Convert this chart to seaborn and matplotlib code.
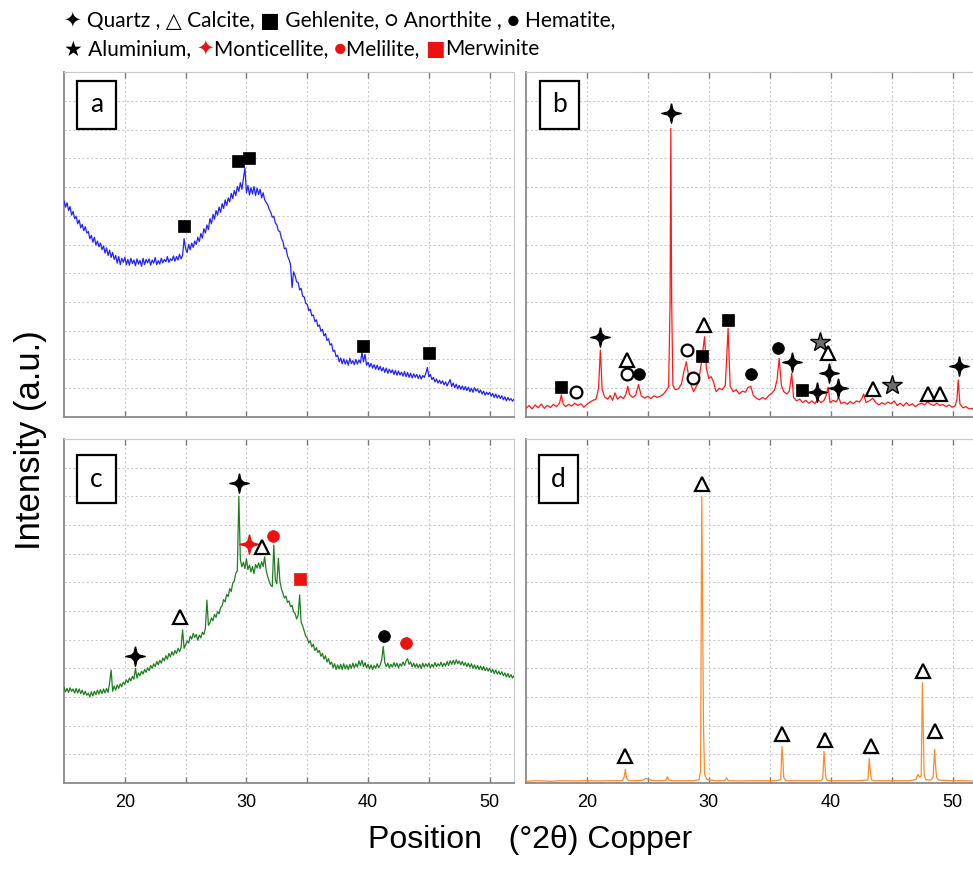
import numpy as np
import pandas as pd
import matplotlib
matplotlib.use("Agg")
import matplotlib.pyplot as plt
from matplotlib.patches import Rectangle
import seaborn as sns

# ---------------- data ----------------
grid_pos = np.arange(15.0, 52.001, 0.125)   # 2theta sampling for panels a and c

a_int = [7.52, 7.30, 7.45, 7.18, 7.32, 7.02, 7.15, 6.90,
         6.98, 6.72, 6.85, 6.58, 6.70, 6.48, 6.62, 6.40,
         6.45, 6.20, 6.32, 6.08, 6.25, 5.98, 6.12, 5.92,
         6.05, 5.82, 5.95, 5.70, 5.88, 5.62, 5.80, 5.55,
         5.72, 5.48, 5.62, 5.35, 5.58, 5.30, 5.52, 5.38,
         5.55, 5.30, 5.48, 5.28, 5.52, 5.34, 5.46, 5.26,
         5.50, 5.32, 5.45, 5.24, 5.52, 5.30, 5.48, 5.36,
         5.50, 5.28, 5.46, 5.35, 5.55, 5.30, 5.44, 5.32,
         5.52, 5.36, 5.48, 5.40, 5.58, 5.38, 5.50, 5.44,
         5.60, 5.42, 5.58, 5.46, 5.66, 5.50, 5.62, 6.20,
         5.85, 5.72, 6.00, 5.82, 6.05, 5.90, 6.12, 6.00,
         6.25, 6.10, 6.38, 6.22, 6.55, 6.40, 6.68, 6.52,
         6.90, 6.72, 7.05, 6.88, 7.18, 7.02, 7.30, 7.12,
         7.42, 7.25, 7.55, 7.36, 7.62, 7.48, 7.78, 7.60,
         7.88, 7.70, 8.02, 7.85, 8.15, 7.92, 8.30, 8.66,
         7.80, 8.05, 7.72, 7.98, 7.76, 8.02, 7.70, 7.96,
         7.74, 7.92, 7.62, 7.80, 7.55, 7.46, 7.38, 7.22,
         7.12, 6.95, 6.98, 6.75, 6.68, 6.48, 6.45, 6.22,
         6.10, 5.85, 5.88, 5.60, 5.48, 5.30, 4.50, 5.05,
         4.92, 4.70, 4.68, 4.42, 4.48, 4.20, 4.18, 3.95,
         3.92, 3.70, 3.75, 3.52, 3.55, 3.32, 3.38, 3.15,
         3.20, 2.98, 3.05, 2.82, 2.90, 2.66, 2.72, 2.50,
         2.55, 2.28, 2.32, 2.10, 2.15, 1.92, 2.05, 1.85,
         2.02, 1.84, 1.98, 1.80, 2.04, 1.86, 1.96, 1.82,
         2.00, 1.84, 1.98, 1.88, 2.25, 1.92, 2.18, 1.80,
         1.90, 1.74, 1.86, 1.70, 1.82, 1.66, 1.80, 1.64,
         1.76, 1.60, 1.72, 1.55, 1.70, 1.52, 1.66, 1.54,
         1.64, 1.48, 1.62, 1.45, 1.60, 1.46, 1.56, 1.42,
         1.58, 1.40, 1.55, 1.38, 1.52, 1.36, 1.50, 1.38,
         1.48, 1.34, 1.46, 1.32, 1.44, 1.38, 1.52, 1.72,
         1.40, 1.48, 1.30, 1.38, 1.22, 1.32, 1.18, 1.28,
         1.16, 1.26, 1.12, 1.22, 1.08, 1.20, 1.30, 1.06,
         1.18, 1.02, 1.14, 0.98, 1.10, 0.96, 1.08, 0.94,
         1.06, 0.92, 1.04, 0.88, 1.00, 0.86, 1.02, 0.90,
         0.98, 0.84, 0.94, 0.80, 0.90, 0.76, 0.86, 0.78,
         0.86, 0.72, 0.82, 0.68, 0.80, 0.66, 0.76, 0.64,
         0.74, 0.60, 0.70, 0.56, 0.68, 0.58, 0.64, 0.55,
         0.62]

c_int = [3.34, 3.18, 3.30, 3.16, 3.32, 3.20, 3.28, 3.14,
         3.30, 3.14, 3.28, 3.12, 3.24, 3.08, 3.20, 3.06,
         3.14, 3.00, 3.18, 3.04, 3.20, 3.08, 3.24, 3.10,
         3.26, 3.12, 3.28, 3.14, 3.30, 3.16, 3.50, 3.94,
         3.20, 3.38, 3.24, 3.42, 3.30, 3.46, 3.36, 3.52,
         3.44, 3.60, 3.50, 3.66, 3.56, 3.72, 3.62, 4.00,
         3.66, 3.84, 3.74, 3.90, 3.80, 3.96, 3.86, 4.02,
         3.92, 4.10, 4.00, 4.16, 4.06, 4.24, 4.12, 4.28,
         4.18, 4.36, 4.26, 4.44, 4.32, 4.52, 4.40, 4.58,
         4.46, 4.62, 4.52, 4.70, 4.58, 4.72, 5.34, 4.70,
         4.82, 4.96, 4.88, 5.12, 5.02, 5.22, 5.08, 5.18,
         4.98, 5.16, 5.06, 5.26, 5.18, 5.40, 6.38, 5.50,
         5.58, 5.76, 5.66, 5.88, 5.78, 5.98, 5.90, 6.12,
         6.18, 6.40, 6.32, 6.58, 6.50, 6.78, 6.68, 6.98,
         7.05, 7.32, 7.40, 9.99, 7.80, 7.54, 7.70, 7.48,
         7.82, 7.45, 7.60, 7.36, 7.55, 7.30, 7.62, 7.50,
         7.68, 7.48, 7.72, 7.55, 7.89, 7.40, 7.20, 7.02,
         6.90, 6.85, 8.30, 7.10, 6.95, 7.84, 7.05, 6.78,
         6.62, 6.45, 6.52, 6.30, 6.35, 6.15, 6.20, 5.98,
         5.92, 5.72, 5.85, 6.56, 5.60, 5.48, 5.30, 5.12,
         5.06, 4.88, 4.96, 4.75, 4.84, 4.62, 4.72, 4.55,
         4.62, 4.42, 4.52, 4.32, 4.44, 4.22, 4.34, 4.14,
         4.22, 4.02, 4.16, 3.96, 4.12, 3.98, 4.14, 3.96,
         4.16, 3.98, 4.12, 3.96, 4.14, 4.00, 4.18, 4.02,
         4.16, 4.04, 4.26, 4.10, 4.28, 4.06, 4.20, 4.02,
         4.14, 3.98, 4.12, 3.96, 4.10, 4.00, 4.16, 4.02,
         4.12, 4.30, 4.76, 4.20, 4.06, 4.18, 4.02, 4.14,
         4.04, 4.20, 4.06, 4.18, 4.02, 4.16, 4.08, 4.22,
         4.10, 4.26, 4.34, 4.14, 4.22, 4.06, 4.18, 4.04,
         4.16, 4.02, 4.14, 4.00, 4.18, 4.04, 4.16, 4.06,
         4.18, 4.02, 4.14, 4.04, 4.20, 4.06, 4.16, 4.08,
         4.22, 4.06, 4.18, 4.08, 4.24, 4.10, 4.26, 4.14,
         4.28, 4.14, 4.30, 4.16, 4.26, 4.12, 4.24, 4.10,
         4.20, 4.06, 4.18, 4.04, 4.16, 4.00, 4.12, 3.98,
         4.10, 3.96, 4.08, 3.94, 4.06, 3.92, 4.02, 3.90,
         4.00, 3.86, 3.96, 3.82, 3.94, 3.80, 3.90, 3.78,
         3.88, 3.74, 3.84, 3.70, 3.82, 3.68, 3.78, 3.66,
         3.74]

b_pos = [15.0, 15.25, 15.5, 15.75, 16.0, 16.25, 16.5, 16.75, 17.0, 17.25, 17.5, 17.75,
         17.9, 18.05, 18.25, 18.5, 18.75, 19.0, 19.25, 19.5, 19.75, 20.0, 20.25, 20.5,
         20.75, 20.95, 21.1, 21.25, 21.45, 21.7, 21.9, 22.1, 22.3, 22.5, 22.75, 23.0,
         23.2, 23.35, 23.5, 23.75, 24.0, 24.23, 24.45, 24.7, 25.0, 25.25, 25.5, 25.75,
         26.0, 26.25, 26.5, 26.7, 26.82, 26.88, 26.95, 27.05, 27.25, 27.5, 27.75, 27.95,
         28.15, 28.35, 28.55, 28.75, 28.95, 29.15, 29.4, 29.65, 29.8, 30.0, 30.2, 30.4,
         30.6, 30.85, 31.1, 31.35, 31.58, 31.75, 32.0, 32.25, 32.5, 32.75, 33.0, 33.2,
         33.44, 33.65, 33.9, 34.15, 34.4, 34.65, 34.9, 35.15, 35.4, 35.6, 35.77, 35.95,
         36.15, 36.4, 36.6, 36.8, 36.95, 37.2, 37.45, 37.7, 37.95, 38.2, 38.45, 38.7,
         38.95, 39.2, 39.45, 39.6, 39.78, 39.95, 40.2, 40.45, 40.65, 40.85, 41.1, 41.35,
         41.6, 41.85, 42.1, 42.35, 42.55, 42.7, 42.9, 43.15, 43.45, 43.7, 43.95, 44.2,
         44.45, 44.7, 44.95, 45.2, 45.45, 45.7, 45.95, 46.2, 46.45, 46.7, 46.95, 47.2,
         47.45, 47.7, 47.95, 48.2, 48.45, 48.7, 48.95, 49.2, 49.45, 49.7, 49.95, 50.2,
         50.35, 50.46, 50.6, 50.85, 51.1, 51.35, 51.6, 51.85, 52.0]
b_int = [0.30, 0.40, 0.28, 0.42, 0.32, 0.45, 0.30, 0.40, 0.33, 0.44, 0.36, 0.48,
         0.77, 0.45, 0.36, 0.44, 0.38, 0.48, 0.40, 0.46, 0.34, 0.44, 0.52, 0.58,
         0.62, 1.00, 2.33, 0.95, 0.70, 0.62, 0.75, 0.58, 0.84, 0.62, 0.72, 0.64,
         0.80, 1.07, 0.78, 0.68, 0.76, 1.13, 0.74, 0.66, 0.72, 0.64, 0.74, 0.68,
         0.72, 0.78, 0.92, 1.05, 4.00, 10.04, 4.00, 1.10, 0.95, 0.98, 1.15, 1.57,
         1.92, 1.40, 1.10, 0.88, 1.05, 1.20, 1.92, 2.79, 1.69, 1.34, 1.40, 1.20,
         0.88, 1.00, 0.95, 1.10, 3.08, 1.07, 0.88, 0.95, 0.80, 0.90, 0.86, 1.02,
         1.07, 0.75, 0.65, 0.60, 0.68, 0.62, 0.74, 0.82, 0.95, 1.30, 2.04, 1.10,
         0.88, 0.80, 0.90, 1.52, 0.68, 0.56, 0.62, 0.50, 0.58, 0.48, 0.56, 0.46,
         0.62, 0.50, 0.58, 0.72, 1.04, 0.50, 0.58, 0.52, 0.68, 0.46, 0.52, 0.44,
         0.54, 0.46, 0.56, 0.52, 0.64, 0.80, 0.50, 0.56, 0.65, 0.50, 0.42, 0.50,
         0.44, 0.52, 0.46, 0.56, 0.40, 0.48, 0.38, 0.50, 0.40, 0.46, 0.36, 0.44,
         0.48, 0.42, 0.53, 0.44, 0.40, 0.48, 0.40, 0.44, 0.36, 0.42, 0.34, 0.38,
         0.60, 1.29, 0.45, 0.32, 0.36, 0.28, 0.30, 0.24, 0.26]

d_pos = [15.0, 16.0, 17.0, 18.0, 19.0, 20.0, 21.0, 22.0, 22.9, 23.05, 23.15, 23.25,
         23.4, 24.0, 24.6, 24.85, 25.1, 25.4, 26.3, 26.5, 26.6, 26.7, 27.0, 28.0,
         28.8, 29.2, 29.32, 29.42, 29.5, 29.56, 29.65, 29.85, 30.5, 31.3, 31.45, 31.6,
         32.5, 33.5, 34.5, 35.5, 35.9, 36.0, 36.08, 36.14, 36.3, 37.0, 38.0, 39.2,
         39.35, 39.45, 39.52, 39.6, 39.75, 41.0, 42.0, 43.05, 43.16, 43.24, 43.34, 43.5,
         44.5, 45.5, 46.5, 47.0, 47.15, 47.3, 47.42, 47.52, 47.6, 47.66, 47.8, 48.2,
         48.4, 48.52, 48.6, 48.68, 48.85, 50.0, 51.0, 52.0]
d_int = [0.06, 0.08, 0.06, 0.08, 0.07, 0.08, 0.07, 0.08, 0.08, 0.20, 0.48, 0.18,
         0.08, 0.08, 0.10, 0.16, 0.12, 0.08, 0.08, 0.10, 0.22, 0.10, 0.08, 0.08,
         0.08, 0.12, 0.40, 10.00, 5.50, 2.00, 0.30, 0.12, 0.08, 0.08, 0.18, 0.08,
         0.07, 0.08, 0.08, 0.08, 0.12, 1.27, 0.80, 0.20, 0.08, 0.08, 0.08, 0.08,
         0.15, 1.11, 0.65, 0.18, 0.08, 0.08, 0.08, 0.10, 0.86, 0.45, 0.12, 0.08,
         0.08, 0.08, 0.08, 0.12, 0.30, 0.20, 0.25, 3.50, 1.70, 0.30, 0.12, 0.10,
         0.20, 1.17, 0.60, 0.20, 0.10, 0.08, 0.08, 0.06]

# phase markers (position, height, phase)
a_mark_pos = [24.87, 29.34, 30.24, 39.56, 45.0]
a_mark_int = [6.64, 8.92, 9.02, 2.48, 2.24]
a_mark_phase = ["Gehlenite"] * 5

b_mark_pos = [26.88, 21.07, 17.87, 19.1, 23.28, 23.28, 24.23, 28.17, 28.74, 29.62, 29.48,
              31.58, 33.44, 35.71, 36.86, 37.68, 38.85, 39.1, 39.78, 39.86, 40.6, 43.5,
              45.0, 47.98, 49.0, 50.52]
b_mark_int = [10.59, 2.77, 1.05, 0.88, 1.98, 1.49, 1.49, 2.33, 1.37, 3.2, 2.13,
              3.37, 1.49, 2.41, 1.90, 0.94, 0.88, 2.62, 2.21, 1.54, 1.02, 0.99,
              1.10, 0.81, 0.81, 1.78]
b_mark_phase = ["Quartz", "Quartz", "Gehlenite", "Anorthite", "Calcite", "Anorthite",
                "Hematite", "Anorthite", "Anorthite", "Calcite", "Gehlenite",
                "Gehlenite", "Hematite", "Hematite", "Quartz", "Gehlenite", "Quartz",
                "Aluminium", "Calcite", "Quartz", "Quartz", "Calcite",
                "Aluminium", "Calcite", "Calcite", "Quartz"]

c_mark_pos = [20.82, 24.56, 29.42, 30.25, 31.26, 32.2, 34.37, 41.29, 43.1]
c_mark_int = [4.43, 5.78, 10.45, 8.32, 8.22, 8.62, 7.12, 5.13, 4.90]
c_mark_phase = ["Quartz", "Calcite", "Quartz", "Monticellite", "Calcite", "Melilite",
                "Merwinite", "Hematite", "Melilite"]

d_mark_pos = [23.15, 29.45, 36.03, 39.5, 43.34, 47.59, 48.57]
d_mark_int = [0.94, 10.43, 1.70, 1.50, 1.30, 3.92, 1.80]
d_mark_phase = ["Calcite"] * 7

panel_labels = ["a", "b", "c", "d"]
x_ticks = [20, 30, 40, 50]

# ---------------- styling ----------------
sns.set_style("white")
plt.rcParams["font.family"] = ["Lato", "DejaVu Sans"]
plt.rcParams["text.color"] = "black"
plt.rcParams["xtick.labelcolor"] = "black"

STAR4 = [(0, 1), (0.14, 0.40), (0.40, 0.14), (1, 0), (0.40, -0.14), (0.14, -0.40),
         (0, -1), (-0.14, -0.40), (-0.40, -0.14), (-1, 0), (-0.40, 0.14), (-0.14, 0.40), (0, 1)]
PHASE_STYLE = {
    "Quartz":       dict(marker=STAR4, ms=14, mfc="black", mec="black", mew=1.0),
    "Calcite":      dict(marker="^", ms=10, mfc="white", mec="black", mew=1.6),
    "Gehlenite":    dict(marker="s", ms=8.5, mfc="black", mec="black", mew=0.5),
    "Anorthite":    dict(marker="o", ms=8.5, mfc="white", mec="black", mew=1.6),
    "Hematite":     dict(marker="o", ms=8.5, mfc="black", mec="black", mew=0.5),
    "Aluminium":    dict(marker="*", ms=15, mfc="#6e6e6e", mec="black", mew=1.0),
    "Monticellite": dict(marker=STAR4, ms=14, mfc="#ee1111", mec="#ee1111", mew=1.0),
    "Melilite":     dict(marker="o", ms=8.5, mfc="#ee1111", mec="#ee1111", mew=0.5),
    "Merwinite":    dict(marker="s", ms=9, mfc="#ee1111", mec="#ee1111", mew=0.5),
}

W, H = 973, 869
fig = plt.figure(figsize=(W / 100, H / 100), dpi=100)

def frac(left, top, right, bottom):
    return [left / W, 1 - bottom / H, (right - left) / W, (bottom - top) / H]

axes = [fig.add_axes(frac(64, 72, 514, 417)),
        fig.add_axes(frac(526, 72, 977, 417)),
        fig.add_axes(frac(64, 439, 514, 783)),
        fig.add_axes(frac(526, 439, 977, 783))]

series = [(grid_pos, a_int, "#2222ff"),
          (b_pos, b_int, "#ff1a1a"),
          (grid_pos, c_int, "#1f7f1f"),
          (d_pos, d_int, "#ff8a2a")]
marks = [(a_mark_pos, a_mark_int, a_mark_phase),
         (b_mark_pos, b_mark_int, b_mark_phase),
         (c_mark_pos, c_mark_int, c_mark_phase),
         (d_mark_pos, d_mark_int, d_mark_phase)]
box_pos = [(0.029, 0.835), (0.031, 0.835), (0.029, 0.814), (0.029, 0.814)]

tick_font = ["Liberation Sans Narrow", "Liberation Sans", "DejaVu Sans"]

for i, ax in enumerate(axes):
    xs, ys, col = series[i]
    df = pd.DataFrame({"pos": xs, "inten": ys})
    sns.lineplot(data=df, x="pos", y="inten", ax=ax, color=col, lw=0.9,
                 estimator=None, sort=False, zorder=3)
    mp, mi, mph = marks[i]
    for p, v, ph in zip(mp, mi, mph):
        ax.plot([p], [v], ls="none", zorder=5, **PHASE_STYLE[ph])
    ax.set_xlim(15, 52)
    ax.set_ylim(0, 12)
    ax.set_xticks(x_ticks)
    ax.set_xticks([25, 35, 45], minor=True)
    ax.set_yticks(range(0, 13))
    ax.grid(True, which="both", axis="x", color="#cccccc", ls=(0, (2, 2)), lw=0.8)
    ax.grid(True, which="major", axis="y", color="#cccccc", ls=(0, (2, 2)), lw=0.8)
    ax.set_axisbelow(True)
    ax.tick_params(axis="x", which="both", direction="in", top=True, bottom=True,
                   length=4, width=1, color="#7a7a7a", labelcolor="black", pad=8)
    ax.tick_params(axis="y", length=0, labelleft=False)
    ax.set_xlabel("")
    ax.set_ylabel("")
    for s in ["left", "bottom"]:
        ax.spines[s].set_color("#8a8a8a")
        ax.spines[s].set_linewidth(1.3)
    for s in ["top", "right"]:
        ax.spines[s].set_color("#c8c8c8")
        ax.spines[s].set_linewidth(0.8)
    if i < 2:
        ax.tick_params(axis="x", labelbottom=False)
    else:
        for lab in ax.get_xticklabels():
            lab.set_fontfamily(tick_font)
            lab.set_fontsize(13)
    bx, by = box_pos[i]
    ax.add_patch(Rectangle((bx, by), 0.087, 0.139, transform=ax.transAxes,
                           fill=True, facecolor="white", edgecolor="black", lw=1.6, zorder=6))
    ax.text(bx + 0.0435, by + 0.0695, panel_labels[i], transform=ax.transAxes,
            ha="center", va="center", fontsize=19, zorder=7)

# axis titles
fig.text(0.031, 0.494, "Intensity (a.u.)", rotation=90, ha="center", va="center",
         fontsize=25, family=tick_font)
fig.text(0.545, 0.033, "Position   (\u00b02\u03b8) Copper", ha="center", va="center",
         fontsize=23, family=tick_font)

# legend of phases (text at top)
fam = ["Lato", "DejaVu Sans"]
LEG_FS = 15
fig.text(64 / W, 1 - 21 / H,
         "\u2726 Quartz , \u25b3 Calcite, \u25a0 Gehlenite, \u25cb Anorthite , \u25cf Hematite,",
         ha="left", va="center", fontsize=LEG_FS, family=fam)
pieces = [("\u2605 Aluminium, ", "black"), ("\u2726", "#ee1111"), ("Monticellite, ", "black"),
          ("\u25cf", "#ee1111"), ("Melilite, ", "black"), ("\u25a0", "#ee1111"),
          ("Merwinite", "black")]
prev = fig.text(64 / W, 1 - 49 / H, pieces[0][0], ha="left", va="center",
                fontsize=LEG_FS, family=fam, color=pieces[0][1])
for txt, colr in pieces[1:]:
    prev = fig.add_artist(matplotlib.text.Annotation(
        txt, xy=(1, 0.5), xycoords=prev, ha="left", va="center",
        fontsize=LEG_FS, family=fam, color=colr, annotation_clip=False))

fig.savefig("out.png", dpi=100)
